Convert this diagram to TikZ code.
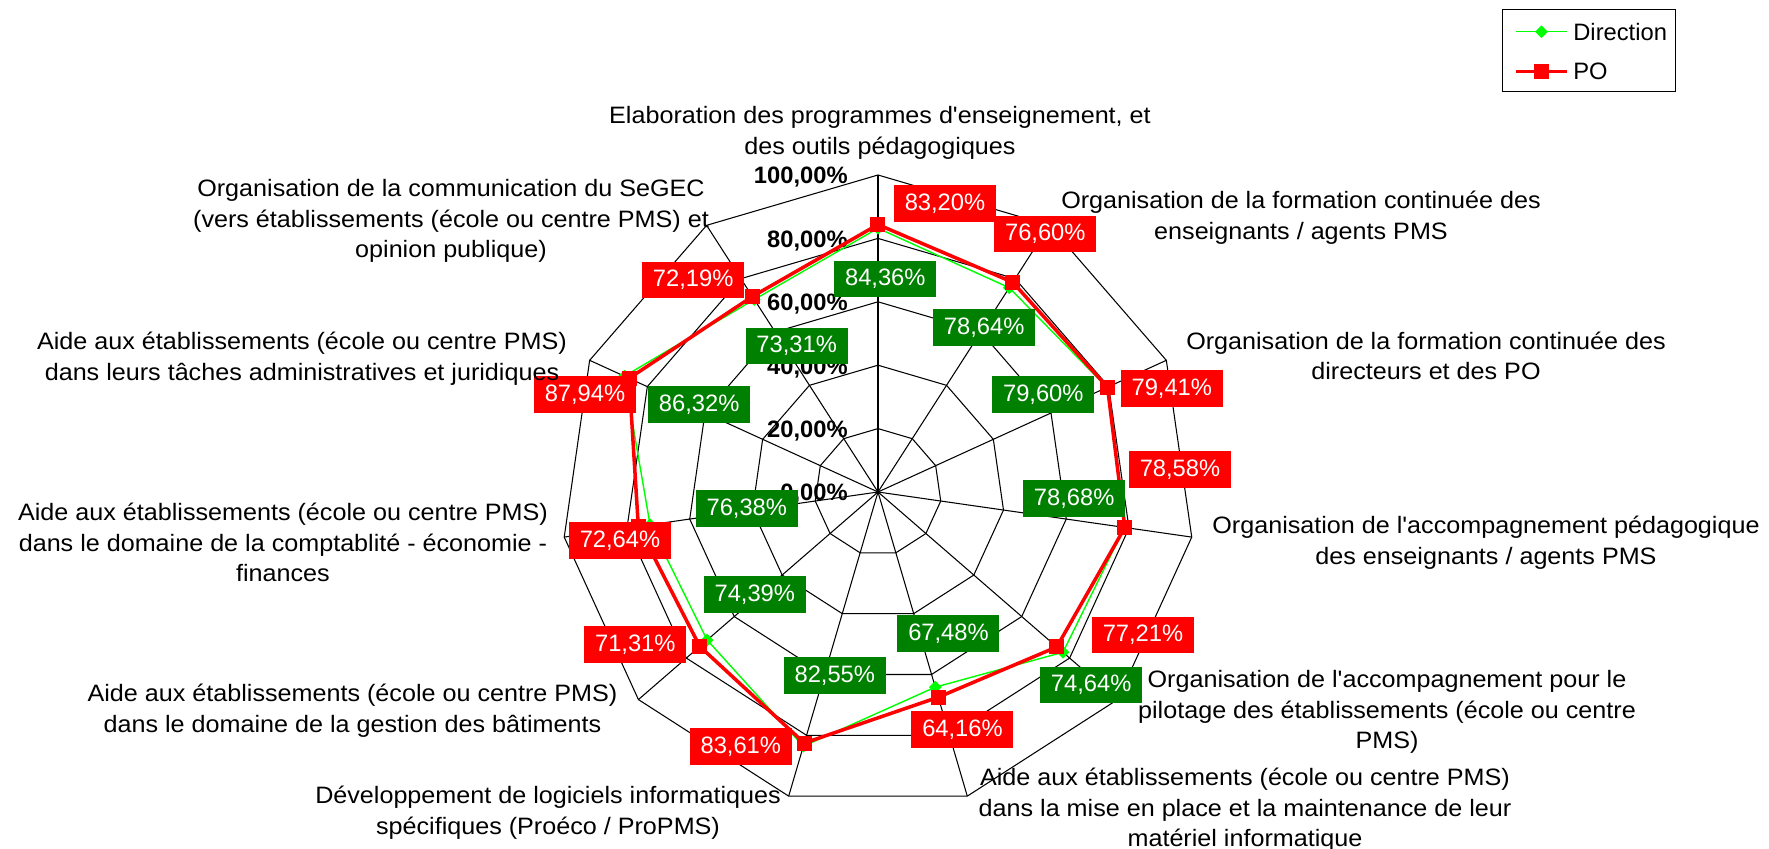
\documentclass[tikz,border=0pt]{standalone}
\usepackage{fontspec}
\setmainfont{Liberation Sans}
\newfontfamily\catfont{Liberation Sans}[FakeStretch=1.06]
\usepackage{xcolor}
\usetikzlibrary{calc,
	positioning,
	shapes}

\definecolor{linegreen}{RGB}{0,255,0}
\definecolor{boxgreen}{RGB}{0,128,0}
\definecolor{boxred}{RGB}{255,0,0}

\tikzset{
	gridline/.style={black, line width=0.6pt},
	dirline/.style={linegreen, line width=0.8pt, line join=round},
	poline/.style={boxred, line width=2pt, line join=round},
	dirmark/.style={diamond, fill=linegreen, inner sep=0pt, minimum size=0.26cm},
	pomark/.style={rectangle, fill=boxred, inner sep=0pt, minimum size=0.3cm},
	ringtext/.style={anchor=east, inner sep=0pt, font=\fontsize{13.5}{16}\selectfont\bfseries},
	cattext/.style={align=center, inner sep=0pt, font=\catfont\fontsize{13.5}{17.4}\selectfont},
	redbox/.style={fill=boxred, text=white, inner sep=0pt, minimum width=2.04cm, minimum height=0.73cm},
	greenbox/.style={redbox, fill=boxgreen}
}

\begin{document}
\begin{tikzpicture}[font=\fontsize{13.5}{17.4}\selectfont]
	\useasboundingbox (-17.56, -7.14) rectangle (17.82, 9.84);
	\pgfmathsetmacro{\radius}{6.34}
	\pgfmathsetmacro{\angle}{360/11}
	\coordinate (centre) at (0, 0);
	\foreach \ring in {1,...,5} {
		\pgfmathsetmacro{\r}{\ring*\radius/5}
		\draw[gridline] (90:\r) \foreach \idx in {1,...,10} { -- ({90-\idx*\angle}:\r) } -- cycle;
	}
	\foreach \idx in {0,...,10} {
		\coordinate (tip\idx) at ({90-\idx*\angle}:\radius);
		\draw[gridline] (centre) -- (tip\idx);
	}
	\foreach \ring in {0,...,5} {
		\pgfmathsetmacro{\y}{\ring*\radius/5-0.05}
		\pgfmathtruncatemacro{\pct}{\ring*20}
		\node[ringtext] (ring\ring) at (-0.6, \y) {\pct,00\%};
	}

	\foreach \val [count=\idx from 0] in {83.20,76.60,79.41,78.58,77.21,64.16,83.61,71.31,72.64,87.94,72.19} {
		\coordinate (dir\idx) at ({90-\idx*\angle}:{\val*\radius/100});
	}
	\foreach \val [count=\idx from 0] in {84.36,78.64,79.60,78.68,74.64,67.48,82.55,74.39,76.38,86.32,73.31} {
		\coordinate (po\idx) at ({90-\idx*\angle}:{\val*\radius/100});
	}
	\draw[dirline] (dir0) \foreach \idx in {1,...,10} { -- (dir\idx) } -- cycle;
	\foreach \idx in {0,...,10} {
		\node[dirmark] (dirm\idx) at (dir\idx) {};
	}
	\draw[poline] (po0) \foreach \idx in {1,...,10} { -- (po\idx) } -- cycle;
	\foreach \idx in {0,...,10} {
		\node[pomark] (pom\idx) at (po\idx) {};
	}

	\foreach \x/\y/\txt [count=\idx from 0] in {1.34/5.774/{83,20}, 3.346/5.156/{76,60}, 5.876/2.074/{79,41}, 6.04/0.454/{78,58}, 5.30/-2.86/{77,21}, 1.69/-4.746/{64,16}, -2.744/-5.094/{83,61}, -4.854/-3.046/{71,31}, -5.16/-0.974/{72,64}, -5.86/1.954/{87,94}, -3.696/4.24/{72,19}} {
		\node[redbox] (redval\idx) at (\x, \y) {\txt\%};
	}
	\foreach \x/\y/\txt [count=\idx from 0] in {0.146/4.256/{84,36}, 2.124/3.29/{78,64}, 3.306/1.954/{79,60}, 3.924/-0.126/{78,68}, 4.264/-3.86/{74,64}, 1.41/-2.83/{67,48}, -0.864/-3.674/{82,55}, -2.464/-2.046/{74,39}, -2.624/-0.326/{76,38}, -3.576/1.754/{86,32}, -1.626/2.92/{73,31}} {
		\node[greenbox] (greenval\idx) at (\x, \y) {\txt\%};
	}

	\node[cattext] (cat0) at (0.04, 7.18) {Elaboration des programmes d'enseignement, et\\des outils pédagogiques};
	\node[cattext] (cat1) at (8.46, 5.48) {Organisation de la formation continuée des\\enseignants / agents PMS};
	\node[cattext] (cat2) at (10.96, 2.72) {Organisation de la formation continuée des\\directeurs et des PO};
	\node[cattext] (cat3) at (12.16, -1.01) {Organisation de l'accompagnement pédagogique\\des enseignants / agents PMS};
	\node[cattext] (cat4) at (10.18, -4.40) {Organisation de l'accompagnement pour le\\pilotage des établissements (école ou centre\\PMS)};
	\node[cattext] (cat5) at (7.34, -6.36) {Aide aux établissements (école ou centre PMS)\\dans la mise en place et la maintenance de leur\\matériel informatique};
	\node[cattext] (cat6) at (-6.6, -6.42) {Développement de logiciels informatiques\\spécifiques (Proéco / ProPMS)};
	\node[cattext] (cat7) at (-10.51, -4.38) {Aide aux établissements (école ou centre PMS)\\dans le domaine de la gestion des bâtiments};
	\node[cattext] (cat8) at (-11.9, -1.01) {Aide aux établissements (école ou centre PMS)\\dans le domaine de la comptablité - économie -\\finances};
	\node[cattext] (cat9) at (-11.52, 2.66) {Aide aux établissements (école ou centre PMS)\\dans leurs tâches administratives et juridiques};
	\node[cattext] (cat10) at (-8.54, 5.42) {Organisation de la communication du SeGEC\\(vers établissements (école ou centre PMS) et\\opinion publique)};

	\node[draw, line width=0.8pt, inner sep=0pt, minimum width=3.46cm, minimum height=1.648cm] (legend) at (14.224, 8.83) {};
	\coordinate (dirA) at (12.76, 9.206);
	\coordinate (dirB) at (13.78, 9.206);
	\coordinate (poA) at (12.76, 8.406);
	\coordinate (poB) at (13.78, 8.406);
	\draw[dirline] (dirA) -- (dirB);
	\node[dirmark] (dirkey) at ($(dirA)!0.5!(dirB)$) {};
	\node[anchor=west, inner sep=0pt] (dirtext) at (13.9, 9.206) {Direction};
	\draw[poline] (poA) -- (poB);
	\node[pomark] (pokey) at ($(poA)!0.5!(poB)$) {};
	\node[anchor=west, inner sep=0pt] (potext) at (13.9, 8.406) {PO};
\end{tikzpicture}
\end{document}
